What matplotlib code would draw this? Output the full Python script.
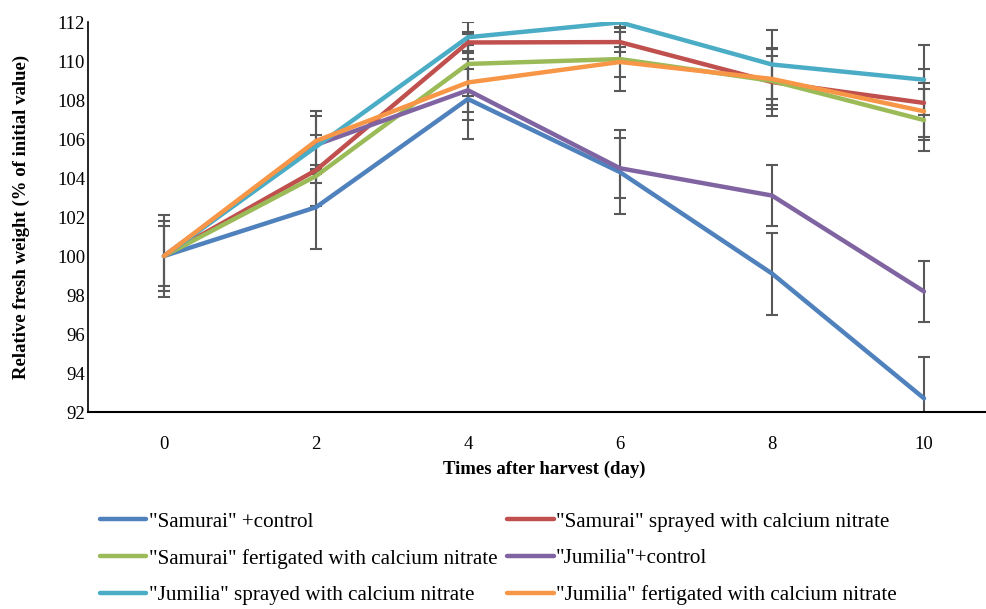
import numpy as np
import matplotlib
matplotlib.use("Agg")
import matplotlib.pyplot as plt

plt.rcParams['font.family'] = ['Liberation Serif', 'DejaVu Serif']

days = [0, 2, 4, 6, 8, 10]
labels = ['"Samurai" +control',
          '"Samurai" sprayed with calcium nitrate',
          '"Samurai" fertigated with calcium nitrate',
          '"Jumilia"+control',
          '"Jumilia" sprayed with calcium nitrate',
          '"Jumilia" fertigated with calcium nitrate']

samurai_control = [100, 102.5, 108.05, 104.3, 99.1, 92.7]
samurai_sprayed = [100, 104.4, 110.95, 110.97, 108.92, 107.85]
samurai_fertigated = [100, 104.1, 109.85, 110.1, 108.98, 106.97]
jumilia_control = [100, 105.7, 108.5, 104.5, 103.1, 98.18]
jumilia_sprayed = [100, 105.6, 111.22, 111.98, 109.82, 109.04]
jumilia_fertigated = [100, 105.9, 108.9, 109.95, 109.08, 107.42]

nan = np.nan
err_samurai_control = [2.12, 2.15, 2.05, 2.15, 2.1, 2.1]
err_samurai_sprayed = [nan, 1.82, 0.45, 0.5, 1.76, 1.75]
err_samurai_fertigated = [1.55, 0.37, 1.62, 1.62, 1.26, 1.6]
err_jumilia_control = [nan, 1.5, 1.1, 1.55, 1.58, 1.55]
err_jumilia_sprayed = [1.78, nan, 0.8, 0.3, 1.78, 1.8]
err_jumilia_fertigated = [nan, 1.52, 1.9, 0.78, 1.55, 1.45]

series = [samurai_control, samurai_sprayed, samurai_fertigated,
          jumilia_control, jumilia_sprayed, jumilia_fertigated]
errors = [err_samurai_control, err_samurai_sprayed, err_samurai_fertigated,
          err_jumilia_control, err_jumilia_sprayed, err_jumilia_fertigated]
colors = ['#4F81BD', '#C0504D', '#9BBB59', '#8064A2', '#4BACC6', '#F79646']

fig = plt.figure(figsize=(9.87, 6.09), dpi=100)
ax = fig.add_axes([88/987, 1 - 412/609, 912/987, 390/609])

handles = []
for y, e, c, lab in zip(series, errors, colors, labels):
    h, = ax.plot(days, y, color=c, lw=3.2, label=lab, zorder=3,
                 solid_capstyle='round', solid_joinstyle='round')
    handles.append(h)
for y, e in zip(series, errors):
    ax.errorbar(days, y, yerr=e, fmt='none', ecolor='#595959', elinewidth=1.5,
                capsize=4, capthick=1.5, zorder=2, clip_on=True)

ax.set_xlim(-1, 11)
ax.set_ylim(92, 112)
ax.set_xticks(days)
ax.set_yticks(np.arange(92, 113, 2))
ax.tick_params(axis='both', length=0, labelsize=13.5)
ax.tick_params(axis='x', pad=17)
ax.tick_params(axis='y', pad=2)
for s in ['top', 'right']:
    ax.spines[s].set_visible(False)
ax.spines['left'].set_linewidth(1.2)
ax.spines['bottom'].set_linewidth(1.5)

ax.set_xlabel('Times after harvest (day)', fontsize=13.5, fontweight='bold', labelpad=6)
ax.set_ylabel('Relative fresh weight (% of initial value)', fontsize=13.5,
              fontweight='bold', labelpad=4)
ax.yaxis.set_label_coords(-0.064, 0.5)

order = [0, 2, 4, 1, 3, 5]
leg = fig.legend(handles=[handles[i] for i in order], loc='upper left',
                 bbox_to_anchor=(100/987, 1 - 512/609),
                 ncol=2, frameon=False, fontsize=15.2, handlelength=2.2,
                 handletextpad=0.12, columnspacing=0.45, labelspacing=0.8,
                 borderaxespad=0, borderpad=0)

fig.savefig('out.png', dpi=100)
